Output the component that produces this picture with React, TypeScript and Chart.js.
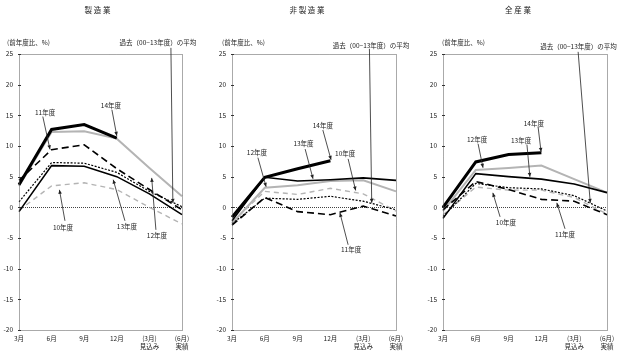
import React, { useEffect, useRef } from 'react';
import { Chart, registerables } from 'chart.js';

Chart.register(...registerables);

// ---------- data ----------
const categories: (string | string[])[] = ['3月', '6月', '9月', '12月', ['(3月)', '見込み'], ['(6月)', '実績']];
const yMin = -20;
const yMax = 25;
const yStep = 5;

// 製造業
const mfgFy10 = [-0.5, 3.5, 4.0, 2.9, 0.0, -2.7];
const mfgFy11 = [4.4, 9.4, 10.2, 6.3, 2.9, -0.4];
const mfgFy12 = [3.5, 12.3, 12.4, 11.2, 6.4, 1.8];
const mfgFy13 = [-0.7, 6.8, 6.7, 5.0, 2.2, -1.2];
const mfgFy14 = [3.7, 12.7, 13.5, 11.3, null, null];
const mfgAvg = [0.9, 7.3, 7.2, 5.7, 2.6, 0.1];

// 非製造業
const nonFy10 = [-2.4, 2.6, 2.1, 3.1, 2.2, -0.6];
const nonFy11 = [-2.9, 1.6, -0.7, -1.2, 0.2, -1.4];
const nonFy12 = [-2.6, 3.2, 3.6, 4.3, 4.4, 2.6];
const nonFy13 = [-2.2, 4.9, 4.3, 4.5, 4.8, 4.4];
const nonFy14 = [-1.6, 4.9, 6.3, 7.6, null, null];
const nonAvg = [-2.7, 1.5, 1.3, 1.8, 1.0, -0.4];

// 全産業
const allFy10 = [-1.2, 3.3, 2.8, 2.8, 1.6, -1.1];
const allFy11 = [-0.4, 4.2, 2.9, 1.3, 1.0, -1.2];
const allFy12 = [-0.6, 6.1, 6.4, 6.8, 4.6, 2.4];
const allFy13 = [-1.8, 5.5, 5.0, 4.6, 3.8, 2.4];
const allFy14 = [0.0, 7.4, 8.6, 8.9, null, null];
const allAvg = [-1.5, 3.9, 3.2, 3.0, 1.9, -0.6];

const seriesNames = { fy10: '10年度', fy11: '11年度', fy12: '12年度', fy13: '13年度', fy14: '14年度', avg: '過去（00−13年度）の平均' };

// ---------- styles ----------
const FONT = '"Noto Sans CJK JP", "Noto Sans", sans-serif';
const seriesStyle: Record<string, { color: string; width: number; dash: number[] }> = {
  fy14: { color: '#000000', width: 3, dash: [] },
  fy13: { color: '#000000', width: 1.6, dash: [] },
  fy11: { color: '#000000', width: 1.6, dash: [7, 4] },
  avg: { color: '#000000', width: 1.2, dash: [2, 1.5] },
  fy12: { color: '#b4b4b4', width: 2, dash: [] },
  fy10: { color: '#b4b4b4', width: 1.4, dash: [5, 4] },
};
const drawOrder = ['fy14', 'fy13', 'fy11', 'avg', 'fy12', 'fy10'];

type Note = { text: string; label: [number, number]; tail: [number, number]; tip: [number, number] };

const mfgNotes: Note[] = [
  { text: '11年度', label: [0.8, 15.4], tail: [0.73, 14.8], tip: [0.95, 9.45] },
  { text: '14年度', label: [2.82, 16.55], tail: [2.85, 15.9], tip: [3.0, 11.65] },
  { text: '10年度', label: [1.35, -3.35], tail: [1.41, -2.2], tip: [1.24, 2.85] },
  { text: '13年度', label: [3.31, -3.2], tail: [3.25, -2.2], tip: [2.89, 4.5] },
  { text: '12年度', label: [4.23, -4.55], tail: [4.2, -3.67], tip: [4.07, 4.8] },
  { text: seriesNames.avg, label: [4.26, 26.9], tail: [4.66, 26.0], tip: [4.72, 0.73] },
];
const nonNotes: Note[] = [
  { text: '12年度', label: [0.76, 9.0], tail: [0.79, 8.1], tip: [1.04, 3.35] },
  { text: '13年度', label: [2.18, 10.35], tail: [2.23, 9.5], tip: [2.47, 4.65] },
  { text: '14年度', label: [2.77, 13.3], tail: [2.77, 12.6], tip: [3.02, 7.75] },
  { text: '10年度', label: [3.45, 8.7], tail: [3.54, 7.9], tip: [3.77, 2.75] },
  { text: '11年度', label: [3.63, -6.9], tail: [3.54, -6.1], tip: [3.29, -0.9] },
  { text: seriesNames.avg, label: [4.24, 26.3], tail: [4.19, 25.85], tip: [4.26, 0.73] },
];
const allNotes: Note[] = [
  { text: '12年度', label: [1.04, 11.1], tail: [1.07, 10.35], tip: [1.22, 6.45] },
  { text: '13年度', label: [2.38, 10.9], tail: [2.56, 10.2], tip: [2.65, 4.97] },
  { text: '14年度', label: [2.77, 13.6], tail: [2.9, 13.1], tip: [2.99, 9.05] },
  { text: '10年度', label: [1.92, -2.45], tail: [1.74, -1.55], tip: [1.52, 2.36] },
  { text: '11年度', label: [3.72, -4.5], tail: [3.72, -3.5], tip: [3.47, 0.73] },
  { text: seriesNames.avg, label: [4.13, 26.2], tail: [4.12, 25.35], tip: [4.49, 0.73] },
];

type Panel = {
  title: string;
  left: number;
  width: number;
  yWidth: number;
  padRight: number;
  unitDx: number;
  titleDx: number;
  series: Record<string, (number | null)[]>;
  notes: Note[];
};

const panels: Panel[] = [
  {
    title: '製 造 業', left: 0, width: 208, yWidth: 19, padRight: 26, unitDx: -12, titleDx: -3,
    series: { fy10: mfgFy10, fy11: mfgFy11, fy12: mfgFy12, fy13: mfgFy13, fy14: mfgFy14, avg: mfgAvg },
    notes: mfgNotes,
  },
  {
    title: '非 製 造 業', left: 208, width: 208, yWidth: 24, padRight: 20, unitDx: -10, titleDx: -7,
    series: { fy10: nonFy10, fy11: nonFy11, fy12: nonFy12, fy13: nonFy13, fy14: nonFy14, avg: nonAvg },
    notes: nonNotes,
  },
  {
    title: '全 産 業', left: 416, width: 208, yWidth: 27, padRight: 17, unitDx: -1, titleDx: -7,
    series: { fy10: allFy10, fy11: allFy11, fy12: allFy12, fy13: allFy13, fy14: allFy14, avg: allAvg },
    notes: allNotes,
  },
];

function drawArrow(ctx: CanvasRenderingContext2D, x1: number, y1: number, x2: number, y2: number) {
  ctx.beginPath();
  ctx.moveTo(x1, y1);
  ctx.lineTo(x2, y2);
  ctx.stroke();
  const ang = Math.atan2(y2 - y1, x2 - x1);
  const L = 4;
  const W = 1.8;
  const c = Math.cos(ang);
  const s = Math.sin(ang);
  ctx.beginPath();
  ctx.moveTo(x2, y2);
  ctx.lineTo(x2 - L * c + W * s, y2 - L * s - W * c);
  ctx.lineTo(x2 - L * c - W * s, y2 - L * s + W * c);
  ctx.closePath();
  ctx.fill();
}

function makeDecor(panel: Panel) {
  return {
    id: 'decor',
    beforeDatasetsDraw(chart: any) {
      const { ctx, chartArea: a, scales } = chart;
      const y = scales.y;
      ctx.save();
      const y0 = Math.round(y.getPixelForValue(0)) + 0.5;
      ctx.strokeStyle = '#444';
      ctx.lineWidth = 1;
      ctx.setLineDash([1, 1]);
      ctx.beginPath();
      ctx.moveTo(a.left, y0);
      ctx.lineTo(a.right, y0);
      ctx.stroke();
      ctx.restore();
    },
    afterDraw(chart: any) {
      const { ctx, chartArea: a, scales } = chart;
      const x = scales.x;
      const y = scales.y;
      ctx.save();
      // frame
      ctx.strokeStyle = '#555';
      ctx.lineWidth = 1;
      ctx.setLineDash([1, 1]);
      ctx.strokeRect(Math.round(a.left) + 0.5, Math.round(a.top) + 0.5, Math.round(a.right - a.left), Math.round(a.bottom - a.top));
      ctx.setLineDash([]);
      // y tick marks
      ctx.strokeStyle = '#333';
      for (let v = yMin; v <= yMax; v += yStep) {
        const py = Math.round(y.getPixelForValue(v)) + 0.5;
        ctx.beginPath();
        ctx.moveTo(a.left - 1, py);
        ctx.lineTo(a.left + 2, py);
        ctx.stroke();
      }
      // title
      ctx.fillStyle = '#222';
      ctx.textAlign = 'center';
      ctx.textBaseline = 'middle';
      ctx.font = `7.5px ${FONT}`;
      ctx.fillText(panel.title, (a.left + a.right) / 2 + panel.titleDx, 10);
      // unit label
      ctx.font = `6.5px ${FONT}`;
      ctx.textAlign = 'left';
      ctx.fillText('(前年度比、%)', a.left + panel.unitDx, 42.5);
      // annotations
      ctx.lineWidth = 0.8;
      ctx.strokeStyle = '#222';
      ctx.fillStyle = '#222';
      ctx.textAlign = 'center';
      for (const n of panel.notes) {
        const lx = x.getPixelForDecimal(n.label[0] / (categories.length - 1));
        const ly = y.getPixelForValue(n.label[1]);
        ctx.fillText(n.text, lx, ly);
        const tx = x.getPixelForDecimal(n.tail[0] / (categories.length - 1));
        const ty = y.getPixelForValue(n.tail[1]);
        const px = x.getPixelForDecimal(n.tip[0] / (categories.length - 1));
        const py = y.getPixelForValue(n.tip[1]);
        drawArrow(ctx, tx, ty, px, py);
      }
      ctx.restore();
    },
  };
}

function PanelChart({ panel }: { panel: Panel }) {
  const ref = useRef<HTMLCanvasElement>(null);
  useEffect(() => {
    if (!ref.current) return;
    const datasets = drawOrder.map((key) => {
      const st = seriesStyle[key];
      return {
        label: seriesNames[key as keyof typeof seriesNames],
        data: panel.series[key],
        borderColor: st.color,
        backgroundColor: st.color,
        borderWidth: st.width,
        borderDash: st.dash,
        borderCapStyle: 'butt' as const,
        borderJoinStyle: 'miter' as const,
        pointRadius: 0,
        pointHoverRadius: 0,
        fill: false,
        tension: 0,
        spanGaps: false,
      };
    });
    const chart = new Chart(ref.current, {
      type: 'line',
      data: { labels: categories as any, datasets },
      options: {
        responsive: false,
        maintainAspectRatio: false,
        animation: false,
        events: [],
        layout: { padding: { top: 54, right: panel.padRight, bottom: 0, left: 0 } },
        plugins: { legend: { display: false }, tooltip: { enabled: false } },
        scales: {
          x: {
            type: 'category',
            offset: false,
            grid: { display: false, drawTicks: false },
            border: { display: false },
            ticks: {
              autoSkip: false,
              maxRotation: 0,
              minRotation: 0,
              padding: 5,
              color: '#222',
              font: { family: FONT, size: 6.5, lineHeight: 1.2 },
            },
            afterFit: (s: any) => {
              s.height = 25;
            },
          },
          y: {
            min: yMin,
            max: yMax,
            grid: { display: false, drawTicks: false },
            border: { display: false },
            ticks: {
              stepSize: yStep,
              padding: 6,
              color: '#222',
              font: { family: FONT, size: 6.5 },
            },
            afterFit: (s: any) => {
              s.width = panel.yWidth;
            },
          },
        },
      },
      plugins: [makeDecor(panel)],
    });
    return () => chart.destroy();
  }, [panel]);
  return (
    <canvas
      ref={ref}
      width={panel.width}
      height={355}
      style={{ position: 'absolute', left: panel.left, top: 0, width: panel.width, height: 355 }}
    />
  );
}

export default function App() {
  return (
    <div style={{ position: 'absolute', left: 0, top: 0, width: 624, height: 355, background: '#fff' }}>
      {panels.map((p) => (
        <PanelChart key={p.title} panel={p} />
      ))}
    </div>
  );
}
